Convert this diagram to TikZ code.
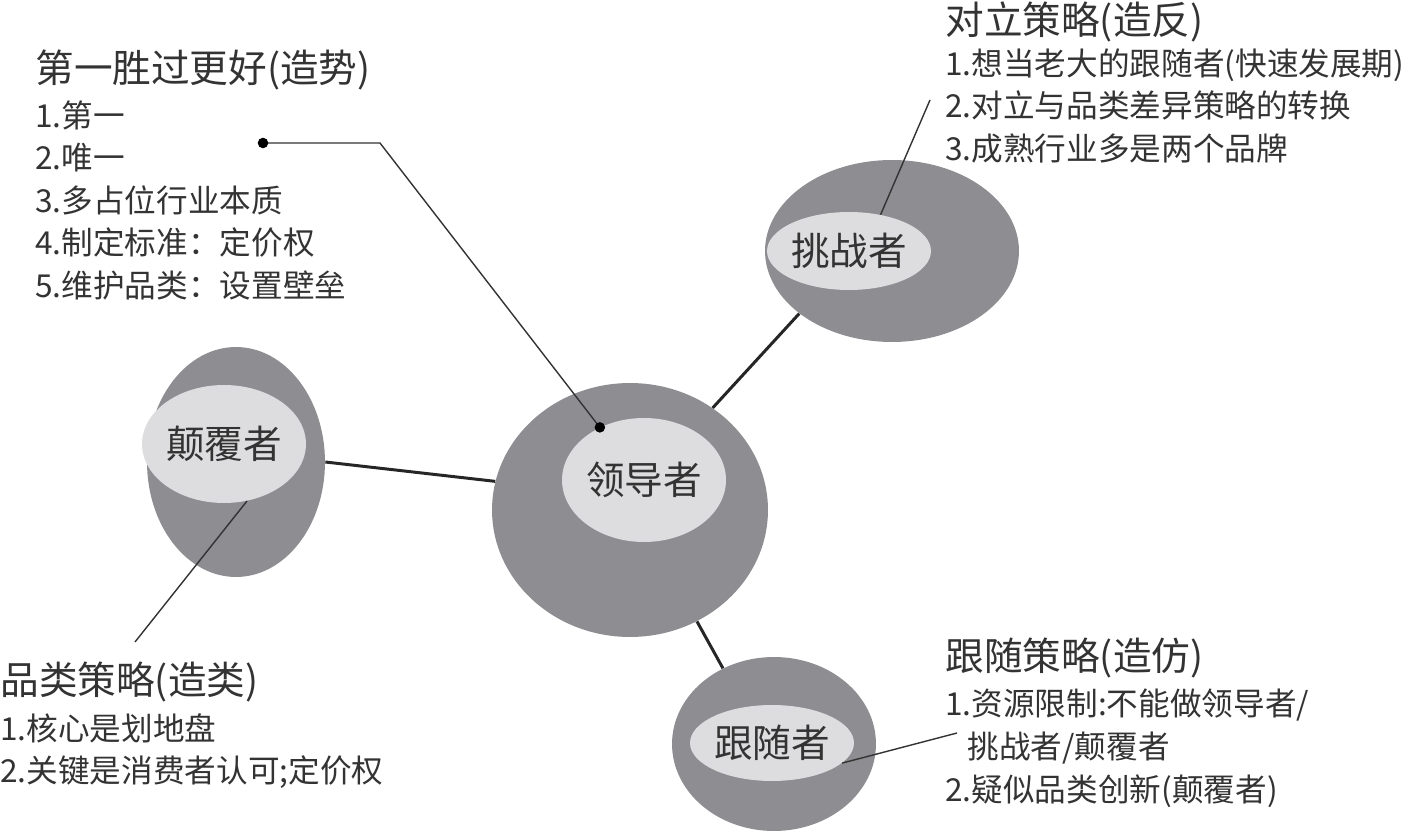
\documentclass[tikz,border=0pt]{standalone}
\usepackage{fontspec}
\setmainfont{Noto Sans CJK SC}
\usepackage{xcolor}
\usepackage{tikz}
\usetikzlibrary{
arrows.meta,
positioning,
shapes.geometric
}
\definecolor{rolegray}{HTML}{8E8E92}
\definecolor{coregray}{HTML}{DDDDDF}
\definecolor{inkgray}{HTML}{333333}

\begin{document}
\begin{tikzpicture}[
  x=0.02cm, y=-0.02cm,
  role/.style={ellipse, fill=rolegray, inner sep=0pt},
  core/.style={ellipse, fill=coregray, inner sep=0pt, text=inkgray, font=\fontsize{22}{26}\selectfont},
  title/.style={anchor=west, inner sep=0pt, text=inkgray, font=\fontsize{22}{26}\selectfont},
  items/.style={anchor=north west, inner sep=0pt, align=left, text=inkgray, font=\fontsize{18}{24.2}\selectfont},
  link/.style={line width=1.7pt, black!85},
  pointer/.style={line width=0.8pt, black!80},
  pin/.style={circle, fill=black, inner sep=0pt, minimum size=6pt}
]
\useasboundingbox (0,0) rectangle (1420,831);

% Roles
\node[role, minimum width=5.52cm, minimum height=5.08cm] (leader) at (630,510) {};
\node[core, minimum width=2.84cm, minimum height=2.48cm] (leader core) at (644,480) {领导者};
\node[role, minimum width=5.08cm, minimum height=3.64cm] (challenger) at (892,251) {};
\node[core, minimum width=3.24cm, minimum height=1.56cm] (challenger core) at (849,251) {挑战者};
\node[role, minimum width=3.56cm, minimum height=4.6cm] (disruptor) at (236,462) {};
\node[core, minimum width=3.04cm, minimum height=2.36cm] (disruptor core) at (224,444) {颠覆者};
\node[role, minimum width=4.08cm, minimum height=3.48cm] (follower) at (774,744) {};
\node[core, minimum width=3cm, minimum height=1.52cm] (follower core) at (772,743) {跟随者};

% Strategies
\node[title] (lead title) at (35,70) {第一胜过更好(造势)};
\node[items] (lead list) at (35,100) {1.第一\\2.唯一\\3.多占位行业本质\\4.制定标准：定价权\\5.维护品类：设置壁垒};
\node[title] (oppose title) at (945,22) {对立策略(造反)};
\node[items] (oppose list) at (945,48) {1.想当老大的跟随者(快速发展期)\\2.对立与品类差异策略的转换\\3.成熟行业多是两个品牌};
\node[title] (category title) at (0,682) {品类策略(造类)};
\node[items] (category list) at (0,713) {1.核心是划地盘\\2.关键是消费者认可;定价权};
\node[title] (follow title) at (945,658) {跟随策略(造仿)};
\node[items] (follow list) at (945,689) {1.资源限制:不能做领导者/\\\hspace{0.7em}挑战者/颠覆者\\2.疑似品类创新(颠覆者)};

% Free ends of the pointers
\coordinate (lead pin) at (263,143);
\coordinate (lead bend) at (380,143);
\coordinate (oppose end) at (930,100);
\coordinate (category end) at (135,642);
\coordinate (follow end) at (957,733);

% Edges
\draw[link] (leader.51) -- (challenger.214);
\draw[link] (leader.168) -- (disruptor.0);
\draw[link] (leader.301) -- (follower.124);

% Pointers
\draw[pointer] (lead pin) -- (lead bend) -- (leader core.130);
\node[pin] at (lead pin) {};
\node[pin] at (leader core.130) {};
\draw[pointer] (challenger core.49) -- (oppose end);
\draw[pointer] (disruptor core.292) -- (category end);
\draw[pointer] (follower core.-16) -- (follow end);

\end{tikzpicture}
\end{document}
